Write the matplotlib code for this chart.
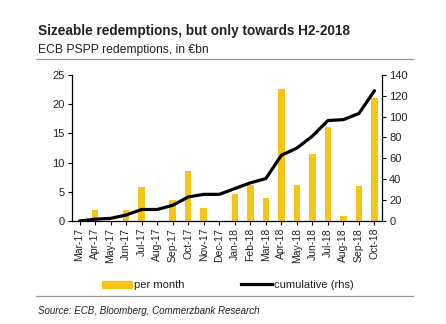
import matplotlib
matplotlib.use("Agg")
import matplotlib.pyplot as plt
from matplotlib.lines import Line2D
from matplotlib.patches import Patch

plt.rcParams['font.family'] = ['Liberation Sans', 'DejaVu Sans']

months = ["Mar-17", "Apr-17", "May-17", "Jun-17", "Jul-17", "Aug-17", "Sep-17",
          "Oct-17", "Nov-17", "Dec-17", "Jan-18", "Feb-18", "Mar-18", "Apr-18",
          "May-18", "Jun-18", "Jul-18", "Aug-18", "Sep-18", "Oct-18"]
per_month = [0.0, 1.8, 0.0, 1.8, 5.8, 0.0, 3.6, 8.5, 2.2, 0.0, 4.6, 6.2,
             4.0, 22.6, 6.2, 11.5, 16.0, 0.9, 6.0, 21.1]
cumulative = [0.0, 1.7, 2.5, 5.7, 11.0, 11.0, 15.0, 23.0, 25.5, 25.5, 31.0, 36.5,
              40.6, 62.9, 69.8, 81.3, 96.2, 97.1, 103.0, 124.8]

yellow = "#F7C519"
text_col = "#222222"

fig = plt.figure(figsize=(4.46, 3.24), dpi=100)
ax = fig.add_axes([0.161, 0.318, 0.696, 0.451])
x = list(range(len(months)))
ax.bar(x, per_month, width=0.42, color=yellow, zorder=2)
ax.set_xlim(-0.5, len(months) - 0.5)
ax.set_ylim(0, 25)
ax.set_yticks([0, 5, 10, 15, 20, 25])
ax.set_xticks(x)
ax.set_xticklabels(months, rotation=90, fontsize=7.5, color=text_col)
ax.tick_params(axis='y', labelsize=8, length=3, width=0.8, pad=2, labelcolor=text_col)
ax.tick_params(axis='x', length=3, width=0.8, pad=2)
for s in ["top", "right"]:
    ax.spines[s].set_visible(False)
for s in ["left", "bottom"]:
    ax.spines[s].set_linewidth(0.9)

ax2 = ax.twinx()
ax2.plot(x, cumulative, color="black", lw=2.3, zorder=3, solid_capstyle='round')
ax2.set_ylim(0, 140)
ax2.set_yticks(range(0, 141, 20))
ax2.tick_params(axis='y', labelsize=8, length=3, width=0.8, pad=2, labelcolor=text_col)
for s in ["top", "left", "bottom"]:
    ax2.spines[s].set_visible(False)
ax2.spines["right"].set_linewidth(0.9)

fig.text(0.085, 0.904, "Sizeable redemptions, but only towards H2-2018",
         fontsize=9.8, fontweight="bold", color=text_col, va="center")
fig.text(0.085, 0.846, "ECB PSPP redemptions, in €bn", fontsize=8.7,
         color=text_col, va="center")
fig.add_artist(Line2D([0.08, 0.926], [0.818, 0.818], color="#999999", lw=0.9))

leg1 = fig.legend([Patch(color=yellow)], ["per month"], loc="center left",
                  bbox_to_anchor=(0.206, 0.12), frameon=False, fontsize=8,
                  handlelength=2.7, handleheight=0.6, handletextpad=0.2,
                  labelcolor=text_col)
leg2 = fig.legend([Line2D([], [], color="black", lw=2.3)], ["cumulative (rhs)"],
                  loc="center left", bbox_to_anchor=(0.518, 0.12), frameon=False,
                  fontsize=8, handlelength=2.8, handletextpad=0.2,
                  labelcolor=text_col)

fig.add_artist(Line2D([0.08, 0.926], [0.087, 0.087], color="#999999", lw=0.9))
fig.text(0.085, 0.03, "Source: ECB, Bloomberg, Commerzbank Research",
         fontsize=7, style="italic", color=text_col)

fig.savefig("out.png", dpi=100)
